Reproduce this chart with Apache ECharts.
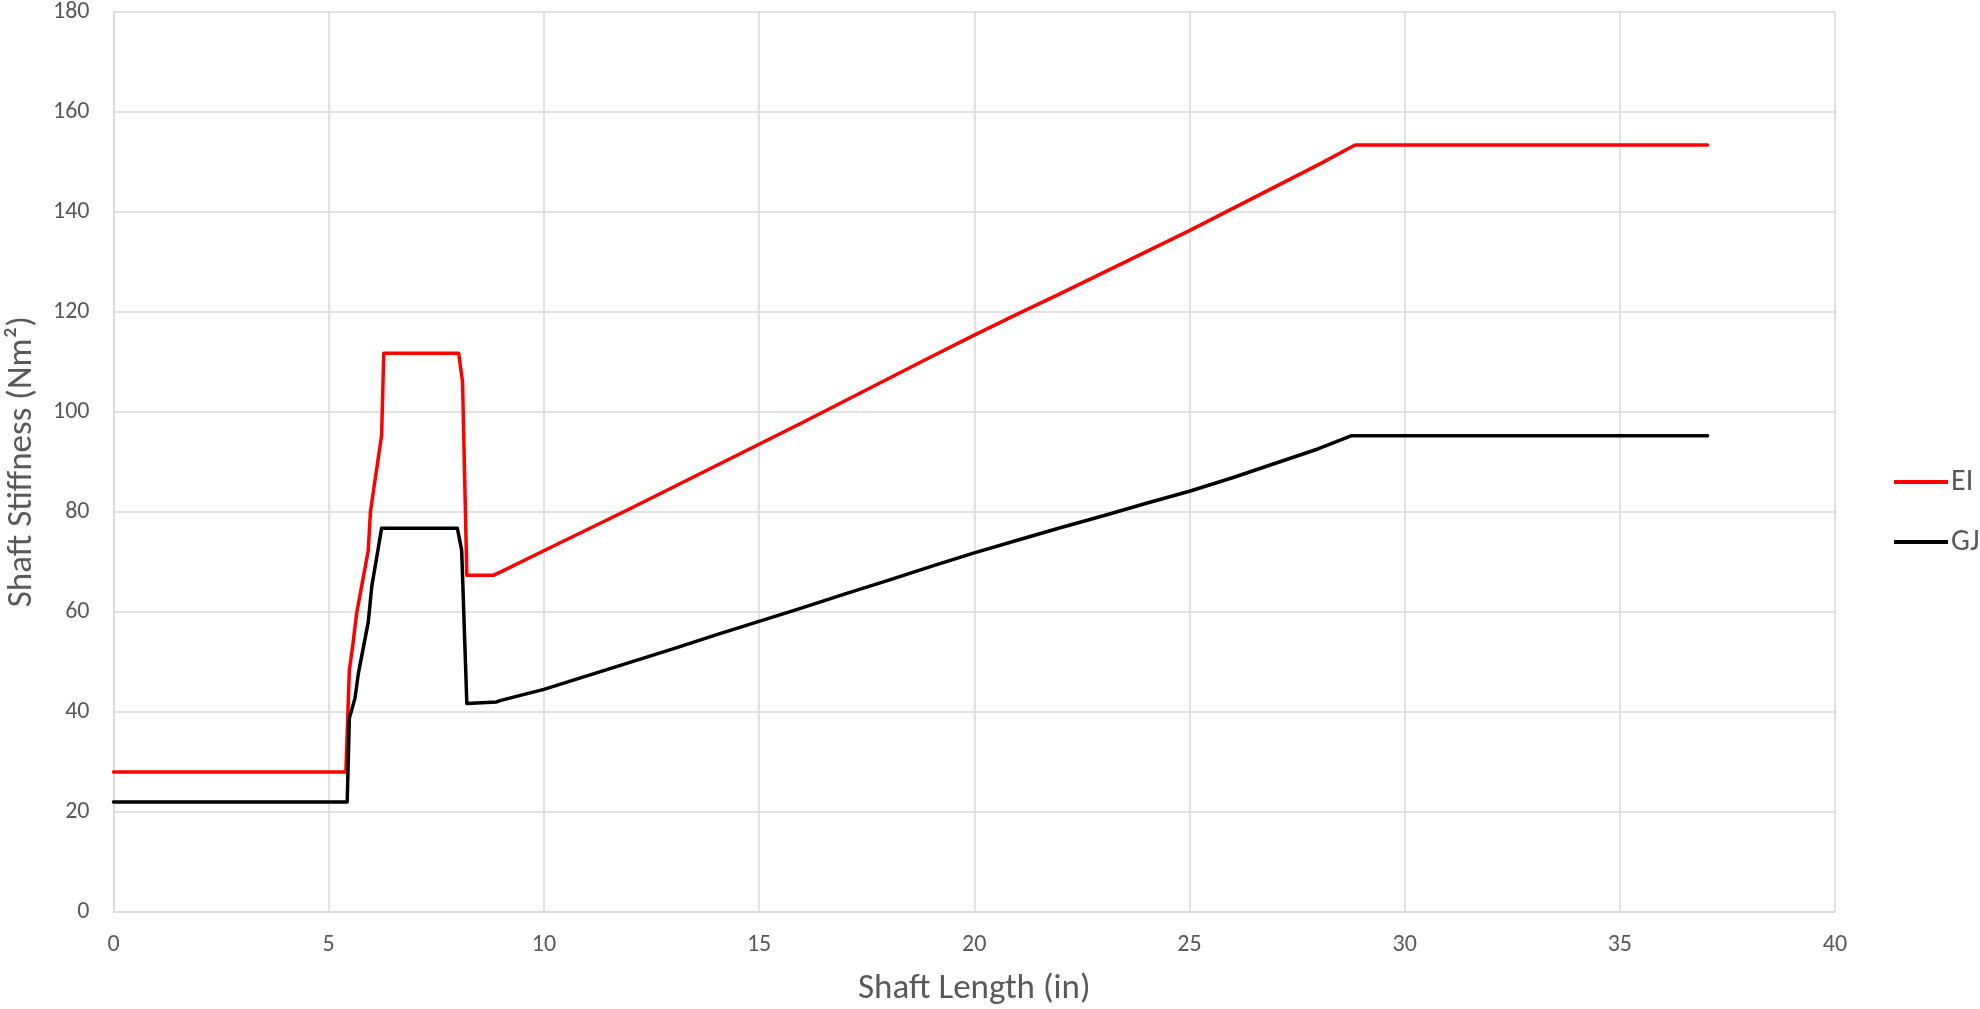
<!DOCTYPE html>
<html>
<head>
<meta charset="utf-8">
<script src="https://cdn.jsdelivr.net/npm/echarts@6/dist/echarts.min.js"></script>
<style>html,body{margin:0;padding:0;background:#fff;}#c{width:1980px;height:1009px;}</style>
</head>
<body>
<div id="c"></div>
<script>
const seriesNames = ['EI', 'GJ'];
const eiX = [0, 5.40, 5.48, 5.56, 5.65, 5.92, 5.97, 6.23, 6.28, 8.02, 8.11, 8.21, 8.82, 9, 10, 11, 12, 13, 14, 15, 16, 17, 18, 19, 20, 21, 22, 23, 24, 25, 26, 27, 28, 28.85, 37.04];
const eiY = [28.0, 28.0, 48.3, 53.3, 59.7, 72.3, 80.0, 95.3, 111.7, 111.7, 106.0, 67.3, 67.3, 68.0, 72.2, 76.4, 80.6, 84.9, 89.2, 93.5, 97.8, 102.2, 106.6, 111.0, 115.3, 119.5, 123.6, 127.8, 132.0, 136.2, 140.6, 145.0, 149.4, 153.3, 153.3];
const gjX = [0, 5.43, 5.48, 5.61, 5.69, 5.92, 6.00, 6.23, 7.99, 8.09, 8.21, 8.90, 9, 10, 11, 12, 13, 14, 15, 16, 17, 18, 19, 20, 21, 22, 23, 24, 25, 26, 27, 28, 28.77, 37.04];
const gjY = [22.0, 22.0, 38.7, 42.7, 47.7, 58.0, 65.0, 76.7, 76.7, 72.3, 41.7, 42.0, 42.3, 44.5, 47.2, 49.9, 52.6, 55.4, 58.1, 60.8, 63.6, 66.3, 69.1, 71.8, 74.3, 76.8, 79.2, 81.7, 84.1, 86.8, 89.7, 92.6, 95.2, 95.2];
const xAxisTitle = 'Shaft Length (in)';
const yAxisTitle = 'Shaft Stiffness (Nm\u00B2)';

const pairs = (xs, ys) => xs.map((x, i) => [x, ys[i]]);
const font = 'Carlito, Calibri, Lato, "Liberation Sans", sans-serif';
const grey = '#595959';
const gridColor = '#d9d9d9';

const chart = echarts.init(document.getElementById('c'));
chart.setOption({
  animation: false,
  backgroundColor: '#ffffff',
  grid: { left: 113.5, right: 145, top: 11.5, bottom: 97, containLabel: false, outerBoundsMode: 'none' },
  legend: {
    orient: 'vertical',
    left: 1889,
    top: 462,
    itemWidth: 54,
    itemHeight: 4,
    itemGap: 30,
    icon: 'rect',
    textStyle: { color: grey, fontSize: 30, fontFamily: font, lineHeight: 30, padding: [0, 0, 0, -2] },
    data: seriesNames
  },
  xAxis: {
    type: 'value',
    min: 0, max: 40, interval: 5,
    name: xAxisTitle,
    nameLocation: 'middle',
    nameGap: 60,
    nameTextStyle: { color: grey, fontSize: 35, fontFamily: font },
    axisLine: { show: true, lineStyle: { color: gridColor, width: 1.5 } },
    axisTick: { show: false },
    axisLabel: { color: grey, fontSize: 24, fontFamily: font, margin: 21 },
    splitLine: { show: true, lineStyle: { color: gridColor, width: 1.5 } }
  },
  yAxis: {
    type: 'value',
    min: 0, max: 180, interval: 20,
    name: yAxisTitle,
    nameLocation: 'middle',
    nameGap: 74,
    nameTextStyle: { color: grey, fontSize: 35, fontFamily: font },
    axisLine: { show: true, lineStyle: { color: gridColor, width: 1.5 } },
    axisTick: { show: false },
    axisLabel: { color: grey, fontSize: 24, fontFamily: font, margin: 24 },
    splitLine: { show: true, lineStyle: { color: gridColor, width: 1.5 } }
  },
  series: [
    { name: seriesNames[0], type: 'line', data: pairs(eiX, eiY), showSymbol: false, symbol: 'none',
      lineStyle: { color: '#ff0000', width: 3.5, cap: 'round', join: 'round' }, itemStyle: { color: '#ff0000' } },
    { name: seriesNames[1], type: 'line', data: pairs(gjX, gjY), showSymbol: false, symbol: 'none',
      lineStyle: { color: '#000000', width: 3.5, cap: 'round', join: 'round' }, itemStyle: { color: '#000000' } }
  ]
});
</script>
</body>
</html>
